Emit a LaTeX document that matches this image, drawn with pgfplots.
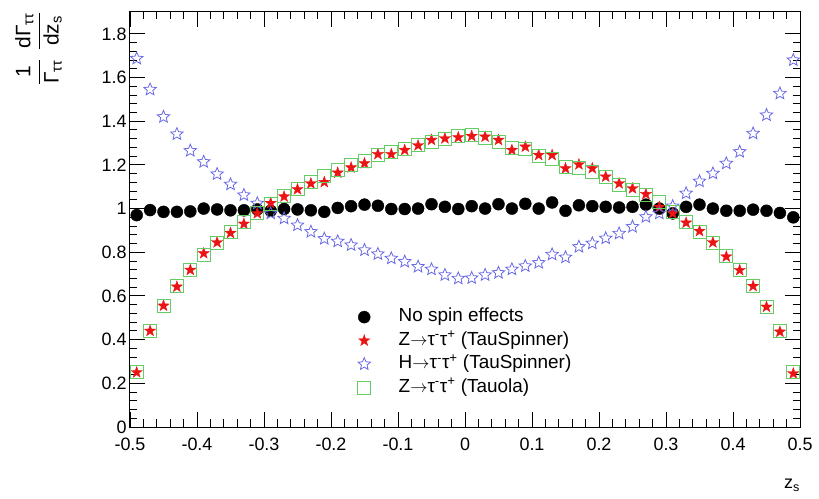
\documentclass[border=0pt]{standalone}
\usepackage{fontspec}
\setmainfont{Liberation Sans}
\usepackage{amsmath}
\usepackage{pgfplots}
\pgfplotsset{compat=1.18}

\definecolor{zred}{RGB}{235,20,20}
\definecolor{hblue}{RGB}{105,105,230}
\definecolor{tgreen}{RGB}{100,205,100}

% five-pointed star, filled and open
\pgfdeclareplotmark{fstar}{%
  \pgfpathmoveto{\pgfpointpolar{90}{\pgfplotmarksize}}%
  \pgfpathlineto{\pgfpointpolar{126}{0.4\pgfplotmarksize}}%
  \pgfpathlineto{\pgfpointpolar{162}{\pgfplotmarksize}}%
  \pgfpathlineto{\pgfpointpolar{198}{0.4\pgfplotmarksize}}%
  \pgfpathlineto{\pgfpointpolar{234}{\pgfplotmarksize}}%
  \pgfpathlineto{\pgfpointpolar{270}{0.4\pgfplotmarksize}}%
  \pgfpathlineto{\pgfpointpolar{306}{\pgfplotmarksize}}%
  \pgfpathlineto{\pgfpointpolar{342}{0.4\pgfplotmarksize}}%
  \pgfpathlineto{\pgfpointpolar{18}{\pgfplotmarksize}}%
  \pgfpathlineto{\pgfpointpolar{54}{0.4\pgfplotmarksize}}%
  \pgfpathclose
  \pgfusepathqfillstroke}
\pgfdeclareplotmark{ostar}{%
  \pgfpathmoveto{\pgfpointpolar{90}{\pgfplotmarksize}}%
  \pgfpathlineto{\pgfpointpolar{126}{0.45\pgfplotmarksize}}%
  \pgfpathlineto{\pgfpointpolar{162}{\pgfplotmarksize}}%
  \pgfpathlineto{\pgfpointpolar{198}{0.45\pgfplotmarksize}}%
  \pgfpathlineto{\pgfpointpolar{234}{\pgfplotmarksize}}%
  \pgfpathlineto{\pgfpointpolar{270}{0.45\pgfplotmarksize}}%
  \pgfpathlineto{\pgfpointpolar{306}{\pgfplotmarksize}}%
  \pgfpathlineto{\pgfpointpolar{342}{0.45\pgfplotmarksize}}%
  \pgfpathlineto{\pgfpointpolar{18}{\pgfplotmarksize}}%
  \pgfpathlineto{\pgfpointpolar{54}{0.45\pgfplotmarksize}}%
  \pgfpathclose
  \pgfusepathqstroke}

% z_s distributions, 50 bins on [-0.5,0.5]
\pgfplotstableread{
x      nospin zts    hts    zta
-0.49  0.970  0.250  1.687  0.250
-0.47  0.993  0.440  1.545  0.440
-0.45  0.985  0.555  1.420  0.555
-0.43  0.985  0.642  1.341  0.645
-0.41  0.987  0.719  1.265  0.720
-0.39  1.000  0.795  1.214  0.790
-0.37  0.996  0.845  1.158  0.845
-0.35  0.992  0.888  1.111  0.895
-0.33  0.992  0.930  1.062  0.940
-0.31  0.996  0.978  1.024  0.980
-0.29  0.990  1.025  0.978  1.020
-0.27  0.998  1.055  0.955  1.060
-0.25  0.996  1.088  0.924  1.090
-0.23  0.992  1.115  0.894  1.120
-0.21  0.985  1.121  0.862  1.150
-0.19  1.003  1.164  0.850  1.175
-0.17  1.011  1.188  0.833  1.200
-0.15  1.018  1.207  0.810  1.220
-0.13  1.013  1.249  0.792  1.245
-0.11  0.998  1.249  0.772  1.260
-0.09  0.998  1.268  0.757  1.275
-0.07  1.000  1.289  0.734  1.290
-0.05  1.020  1.314  0.722  1.305
-0.03  1.008  1.321  0.696  1.320
-0.01  0.998  1.326  0.680  1.335
 0.01  1.011  1.332  0.682  1.336
 0.03  1.000  1.329  0.696  1.325
 0.05  1.020  1.314  0.706  1.306
 0.07  1.000  1.268  0.722  1.280
 0.09  1.022  1.283  0.737  1.275
 0.11  1.000  1.245  0.752  1.240
 0.13  1.028  1.245  0.790  1.226
 0.15  0.990  1.184  0.777  1.190
 0.17  1.015  1.202  0.825  1.184
 0.19  1.011  1.184  0.841  1.168
 0.21  1.008  1.146  0.864  1.146
 0.23  1.005  1.115  0.886  1.110
 0.25  1.008  1.092  0.917  1.085
 0.27  1.018  1.066  0.962  1.062
 0.29  1.000  1.007  0.978  1.030
 0.31  0.978  0.978  1.011  0.985
 0.33  1.008  0.935  1.070  0.940
 0.35  1.018  0.897  1.125  0.895
 0.37  1.000  0.845  1.161  0.845
 0.39  0.990  0.780  1.207  0.785
 0.41  0.990  0.718  1.260  0.720
 0.43  0.995  0.645  1.344  0.645
 0.45  0.990  0.550  1.428  0.550
 0.47  0.980  0.436  1.527  0.440
 0.49  0.960  0.245  1.680  0.250
}\zsdata

\begin{document}
\begin{tikzpicture}
\begin{axis}[
  scale only axis,
  width=670bp, height=415bp,
  xmin=-0.5, xmax=0.5, ymin=0, ymax=1.9,
  xtick={-0.5,-0.4,-0.3,-0.2,-0.1,0,0.1,0.2,0.3,0.4,0.5},
  ytick={0,0.2,0.4,0.6,0.8,1,1.2,1.4,1.6,1.8},
  minor tick num=4,
  tick align=inside,
  major tick length=15bp,
  minor tick length=7.5bp,
  axis line style={line width=1bp},
  every tick/.style={black, line width=0.9bp},
  /pgf/number format/assume math mode=true,
  tick label style={font=\fontsize{18}{21}\selectfont},
  xticklabel style={yshift=-7bp},
  yticklabel style={xshift=0bp},
  xlabel={z\textsubscript{s}},
  xlabel style={at={(axis description cs:1,0)}, anchor=north east,
    yshift=-52bp, inner sep=0pt, font=\fontsize{18}{21}\selectfont},
  ylabel={\(\dfrac{\text{1}}{\text{Γ}_{\text{ττ}}}\hspace{9bp}\dfrac{\text{dΓ}_{\text{ττ}}}{\text{dz}_{\text{s}}}\)},
  ylabel style={at={(axis description cs:-0.1015,1)}, anchor=south east,
    inner sep=0pt, font=\fontsize{21}{25}\selectfont},
  legend cell align=left,
  legend style={draw=none, fill=none, inner sep=0pt,
    at={(axis description cs:0.3396,0.2905)}, anchor=north west,
    font=\fontsize{19}{22}\selectfont,
    nodes={inner sep=2bp, text height=13bp, text depth=4bp},
    row sep=2.5bp,
    /tikz/every odd column/.append style={column sep=26bp}},
]
\addplot[only marks, mark=*, mark size=6bp, black]
  table[x=x, y=nospin]{\zsdata};
\addlegendentry{No spin effects}
\addplot[only marks, mark=fstar, mark size=6bp, draw=zred, fill=zred, line width=0.3bp]
  table[x=x, y=zts]{\zsdata};
\addlegendentry{Z$\rightarrow$τ\textsuperscript{-}τ\textsuperscript{+} (TauSpinner)}
\addplot[only marks, mark=ostar, mark size=6.5bp, draw=hblue, line width=0.8bp]
  table[x=x, y=hts]{\zsdata};
\addlegendentry{H$\rightarrow$τ\textsuperscript{-}τ\textsuperscript{+} (TauSpinner)}
\addplot[only marks, mark=square, mark size=6.5bp, draw=tgreen, line width=0.8bp]
  table[x=x, y=zta]{\zsdata};
\addlegendentry{Z$\rightarrow$τ\textsuperscript{-}τ\textsuperscript{+} (Tauola)}
\end{axis}
\pgfresetboundingbox
\path (current axis.south west) ++(-130bp,-72bp) rectangle ++(819bp,499bp);
\end{tikzpicture}
\end{document}
